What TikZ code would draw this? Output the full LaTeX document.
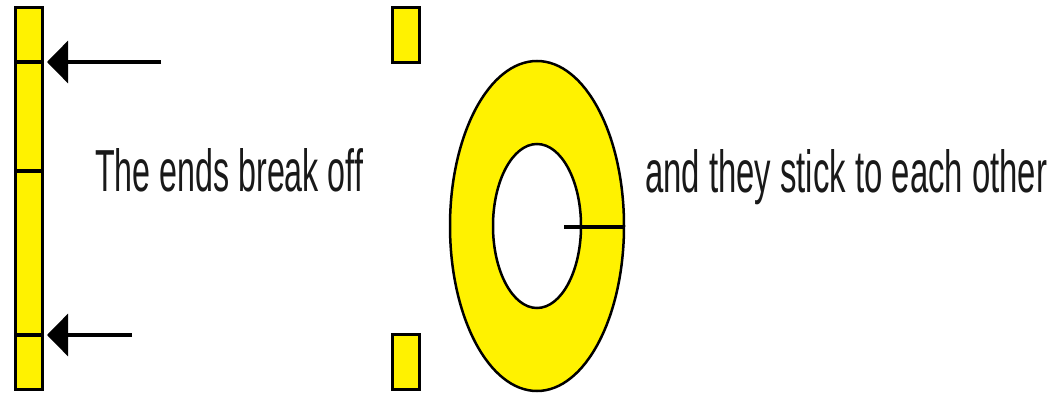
\documentclass[tikz,border=0pt]{standalone}
\usepackage{graphicx}
\usepackage{fontspec}
\setmainfont{Liberation Sans}
\usetikzlibrary{arrows.meta}
\tikzset{
  piece/.style={draw=black, fill=yellow, line width=3.2pt},
  divider/.style={draw=black, line width=3.2pt},
  arr/.style={draw=black, line width=3.2pt, -{Triangle[length=21pt, width=42pt]}},
  ringline/.style={draw=black, line width=2.5pt},
  lbl/.style={anchor=base west, inner sep=0pt, text=black!90}
}
\begin{document}
\begin{tikzpicture}[x=1pt, y=-1pt]
\useasboundingbox (0,0) rectangle (1053,393);
% left bar
\node[piece, anchor=north west, minimum width=27pt, minimum height=382pt, inner sep=0pt, outer sep=0pt] (bar) at (15.5,7.5) {};
\coordinate (d1l) at (15.5,62); \coordinate (d1r) at (42.5,62);
\coordinate (d2l) at (15.5,171); \coordinate (d2r) at (42.5,171);
\coordinate (d3l) at (15.5,335); \coordinate (d3r) at (42.5,335);
\draw[divider] (d1l) -- (d1r);
\draw[divider] (d2l) -- (d2r);
\draw[divider] (d3l) -- (d3r);
% arrows
\coordinate (a1s) at (161,62); \coordinate (a1e) at (47,62);
\coordinate (a2s) at (132,335); \coordinate (a2e) at (47,335);
\draw[arr] (a1s) -- (a1e);
\draw[arr] (a2s) -- (a2e);
% labels
\node[lbl] (t1) at (95,192) {\resizebox{268pt}{43pt}{The ends break off}};
\node[lbl] (t2) at (645,193) {\resizebox{402pt}{43pt}{and they stick to each other}};
% broken-off ends
\node[piece, anchor=north west, minimum width=27pt, minimum height=55pt, inner sep=0pt, outer sep=0pt] (e1) at (392.5,7.5) {};
\node[piece, anchor=north west, minimum width=27pt, minimum height=55pt, inner sep=0pt, outer sep=0pt] (e2) at (392.5,334.5) {};
% ring
\coordinate (c) at (537,226);
\fill[yellow, even odd rule] (c) ellipse [x radius=87, y radius=165] (c) ellipse [x radius=44, y radius=82];
\draw[ringline] (c) ellipse [x radius=87, y radius=165];
\draw[ringline] (c) ellipse [x radius=44, y radius=82];
\coordinate (j1) at (564,227); \coordinate (j2) at (625,227);
\draw[divider] (j1) -- (j2);
\end{tikzpicture}
\end{document}
